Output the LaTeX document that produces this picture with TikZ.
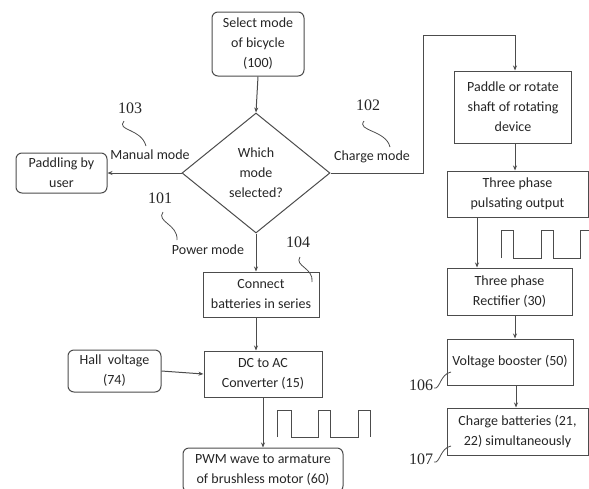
\documentclass[tikz,border=0pt]{standalone}
\usepackage{fontspec}
\setmainfont{Carlito}
\newfontfamily\numfont{Liberation Serif}
\usetikzlibrary{shapes.geometric,arrows.meta}

\begin{document}
\begin{tikzpicture}[x=1pt,y=-1pt,
  font=\fontsize{14}{20}\selectfont, text=black!85,
  box/.style={draw=black!70, line width=1pt, align=center, inner sep=1pt, fill=white},
  rbox/.style={box, rounded corners=6pt},
  dbox/.style={box, diamond, inner sep=0pt, minimum width=148pt, minimum height=120pt},
  flow/.style={draw=black!70, line width=1pt, -{Stealth[length=5pt,width=4pt]}},
  wave/.style={draw=black!70, line width=1pt},
  lead/.style={draw=black!70, line width=0.8pt},
  num/.style={font=\numfont\fontsize{16}{16}\selectfont},
  modelabel/.style={font=\fontsize{14}{16}\selectfont}]

% frame
\useasboundingbox (0,0) rectangle (589,488);
\clip (0,0) rectangle (589,488);

% left branch
\node[rbox, minimum width=92pt, minimum height=64pt] (select) at (258,44) {Select mode\\of bicycle\\(100)};
\node[dbox] (which) at (256,173) {Which\\mode\\selected?};
\node[rbox, minimum width=91pt, minimum height=40pt] (paddling) at (61.5,173) {Paddling by\\user};
\node[box, minimum width=116pt, minimum height=45pt] (connect) at (261,294.5) {Connect\\batteries in series};
\node[box, minimum width=118pt, minimum height=46pt] (dcac) at (263,374) {DC to AC\\Converter (15)};
\node[rbox, minimum width=93pt, minimum height=42pt] (hall) at (114.5,371) {Hall\ \ voltage\\(74)};
\node[rbox, minimum width=160pt, minimum height=44pt] (pwm) at (263,470) {PWM wave to armature\\of brushless motor (60)};

% right branch
\node[box, minimum width=117pt, minimum height=72pt] (rotate) at (513,107) {Paddle or rotate\\shaft of rotating\\device};
\node[box, minimum width=141pt, minimum height=46pt] (pulsating) at (517.5,194) {Three phase\\pulsating output};
\node[box, minimum width=125pt, minimum height=47pt] (rectifier) at (509.5,291.5) {Three phase\\Rectifier (30)};
\node[box, minimum width=126pt, minimum height=46pt] (booster) at (510,362) {Voltage booster (50)};
\node[box, minimum width=141pt, minimum height=47pt] (charge) at (517.5,431.5) {Charge batteries (21,\\22) simultaneously};

% mode labels
\node[modelabel] (manual) at (150,155) {Manual mode};
\node[modelabel] (power) at (208,250) {Power mode};
\node[modelabel] (chargemode) at (372,157) {Charge mode};

% reference numbers
\node[num] (n103) at (130,108) {103};
\node[num] (n101) at (160,198) {101};
\node[num] (n102) at (368,105) {102};
\node[num] (n104) at (298,242) {104};
\node[num] (n106) at (421,385) {106};
\node[num] (n107) at (421,459) {107};

% leaders
\draw[lead] (124,121) .. controls (116,131) and (141,128) .. (146,146);
\draw[lead] (163,212) .. controls (156,222) and (178,224) .. (177,240);
\draw[lead] (364,121) .. controls (356,131) and (386,130) .. (390,147);
\draw[lead] (300,257) .. controls (294,266) and (314,268) .. (312,282);
\draw[lead] (434,388) .. controls (440,390) and (440,374) .. (451,372);
\draw[lead] (434,462) .. controls (440,464) and (440,448) .. (451,446);

% connectors
\coordinate (bend) at (423,35);
\draw[flow] (select.south) -- (which.north);
\draw[flow] (which.west) -- (paddling.east);
\draw[flow] (which.south) -- (which.south |- connect.north);
\draw[flow] (which.south |- connect.south) -- (which.south |- dcac.north);
\draw[flow] (hall.east) -- (dcac.west);
\draw[flow] (dcac.south) -- (pwm.north);
\draw[flow] (which.east) -| (bend) -| ([xshift=2pt]rotate.north);
\draw[flow] ([xshift=2pt]rotate.south) -- ([xshift=2pt]rotate.south |- pulsating.north);
\draw[flow] ([xshift=-40.5pt]pulsating.south) -- ([xshift=-40.5pt]pulsating.south |- rectifier.north);
\draw[flow] ([xshift=5.5pt]rectifier.south) -- ([xshift=5.5pt]rectifier.south |- booster.north);
\draw[flow] ([xshift=6pt]booster.south) -- ([xshift=6pt]booster.south |- charge.north);

% pulse waves
\draw[wave] (277,437) -- (277,410) -- (291,410) -- (291,437) -- (318,437) -- (318,410) -- (330,410) -- (330,437) -- (358,437) -- (358,410) -- (370,410) -- (370,437);
\draw[wave] (501,258) -- (501,230) -- (513,230) -- (513,258) -- (541,258) -- (541,230) -- (553,230) -- (553,258) -- (580,258) -- (580,230) -- (589,230);

\end{tikzpicture}
\end{document}
